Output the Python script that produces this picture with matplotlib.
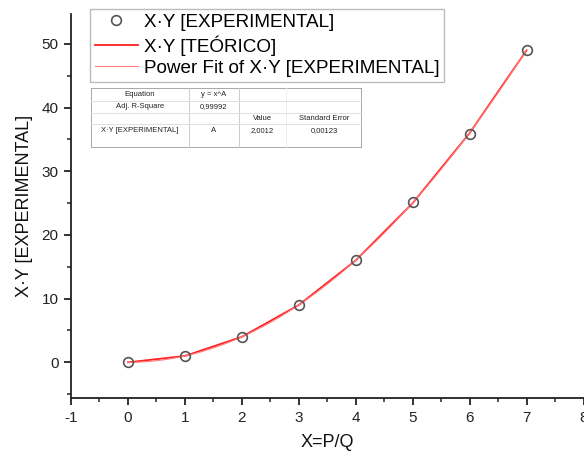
import numpy as np
import matplotlib
matplotlib.use("Agg")
import matplotlib.pyplot as plt
from matplotlib.ticker import MultipleLocator
from matplotlib.lines import Line2D

plt.rcParams['font.family'] = ['Liberation Sans', 'DejaVu Sans']
plt.rcParams['axes.unicode_minus'] = False

# Measured data
x_exp = [0, 1, 2, 3, 4, 5, 6, 7]
y_exp = [0.0, 1.0, 4.0, 8.95, 16.1, 25.1, 35.9, 49.1]
# Theoretical values
y_teo = [0, 1, 4, 9, 16, 25, 36, 49]
# Power fit y = x^A
fit_A = 2.0012
fit_err = 0.00123
adj_r2 = 0.99992

W, H = 584, 455
fig = plt.figure(figsize=(W / 100, H / 100), dpi=100)
ax = fig.add_axes([71 / W, 1 - 398 / H, (583.5 - 71) / W, (398 - 14) / H])

xf = np.linspace(0, 7, 200)
ax.plot(x_exp, y_teo, color='#ff2020', lw=1.3, zorder=2)
ax.plot(xf, xf ** fit_A, color='#ff8080', lw=0.8, zorder=3)
ax.plot(x_exp, y_exp, 'o', mfc='none', mec='#555555', ms=7, mew=1.2, zorder=4)

ax.set_xlim(-1, 8)
ax.set_ylim(-5.6, 54.7)
ax.xaxis.set_major_locator(MultipleLocator(1))
ax.xaxis.set_minor_locator(MultipleLocator(0.5))
ax.yaxis.set_major_locator(MultipleLocator(10))
ax.yaxis.set_minor_locator(MultipleLocator(5))
for s in ['top', 'right']:
    ax.spines[s].set_visible(False)
for s in ['left', 'bottom']:
    ax.spines[s].set_linewidth(1.3)
    ax.spines[s].set_color('#222222')
ax.tick_params(which='major', direction='out', length=5, width=1.3, labelsize=11,
               colors='#222222', pad=4)
ax.tick_params(which='minor', direction='out', length=3, width=1.1, colors='#222222')
ax.set_xlabel('X=P/Q', fontsize=13, labelpad=7, color='#111111')
ax.set_ylabel('X·Y [EXPERIMENTAL]', fontsize=13, labelpad=6, color='#111111')

# Legend
handles = [
    Line2D([], [], ls='none', marker='o', mfc='none', mec='#555555', ms=7, mew=1.2),
    Line2D([], [], color='#ff2020', lw=1.3),
    Line2D([], [], color='#ff8080', lw=0.8),
]
labels = ['X·Y [EXPERIMENTAL]', 'X·Y [TEÓRICO]', 'Power Fit of X·Y [EXPERIMENTAL]']
leg = fig.legend(handles, labels, loc='upper left',
                 bbox_to_anchor=(90 / W, 1 - 9 / H), fontsize=13.6,
                 frameon=True, fancybox=False, borderpad=0.25, labelspacing=0.22,
                 handlelength=2.3, handletextpad=0.3, borderaxespad=0)
leg.get_frame().set_edgecolor('#aaaaaa')
leg.get_frame().set_linewidth(1.0)

# Fit results table
tx0, ty0, tx1, ty1 = 91, 88, 362, 148
tab = fig.add_axes([tx0 / W, 1 - ty1 / H, (tx1 - tx0) / W, (ty1 - ty0) / H])
tab.set_xlim(tx0, tx1)
tab.set_ylim(ty1, ty0)
tab.axis('off')
tab.add_patch(plt.Rectangle((tx0, ty0), tx1 - tx0, ty1 - ty0, fill=False,
                            ec='#999999', lw=1.2))
cols = [tx0, 189, 239, 286, tx1]
rows = [ty0, 100.5, 112.5, 124, ty1]
for cx in cols[1:3]:
    tab.plot([cx, cx], [ty0, ty1], color='#cccccc', lw=0.7)
tab.plot([cols[3], cols[3]], [ty0, ty1], color='#eeeeee', lw=0.7)
for ry in rows[1:4]:
    tab.plot([tx0, tx1], [ry, ry], color='#e0e0e0', lw=0.7)
cells = [
    ['Equation', 'y = x^A', '', ''],
    ['Adj. R-Square', f'{adj_r2:.5f}'.replace('.', ','), '', ''],
    ['', '', 'Value', 'Standard Error'],
    ['X·Y [EXPERIMENTAL]', 'A', f'{fit_A:.4f}'.replace('.', ','),
     f'{fit_err:.5f}'.replace('.', ',')],
]
row_y = [94, 106.5, 118, 131]
for r, row in enumerate(cells):
    for c, txt in enumerate(row):
        if txt:
            tab.text((cols[c] + cols[c + 1]) / 2, row_y[r], txt, fontsize=5.5,
                     ha='center', va='center', color='#222222')

fig.savefig('out.png', dpi=100)
